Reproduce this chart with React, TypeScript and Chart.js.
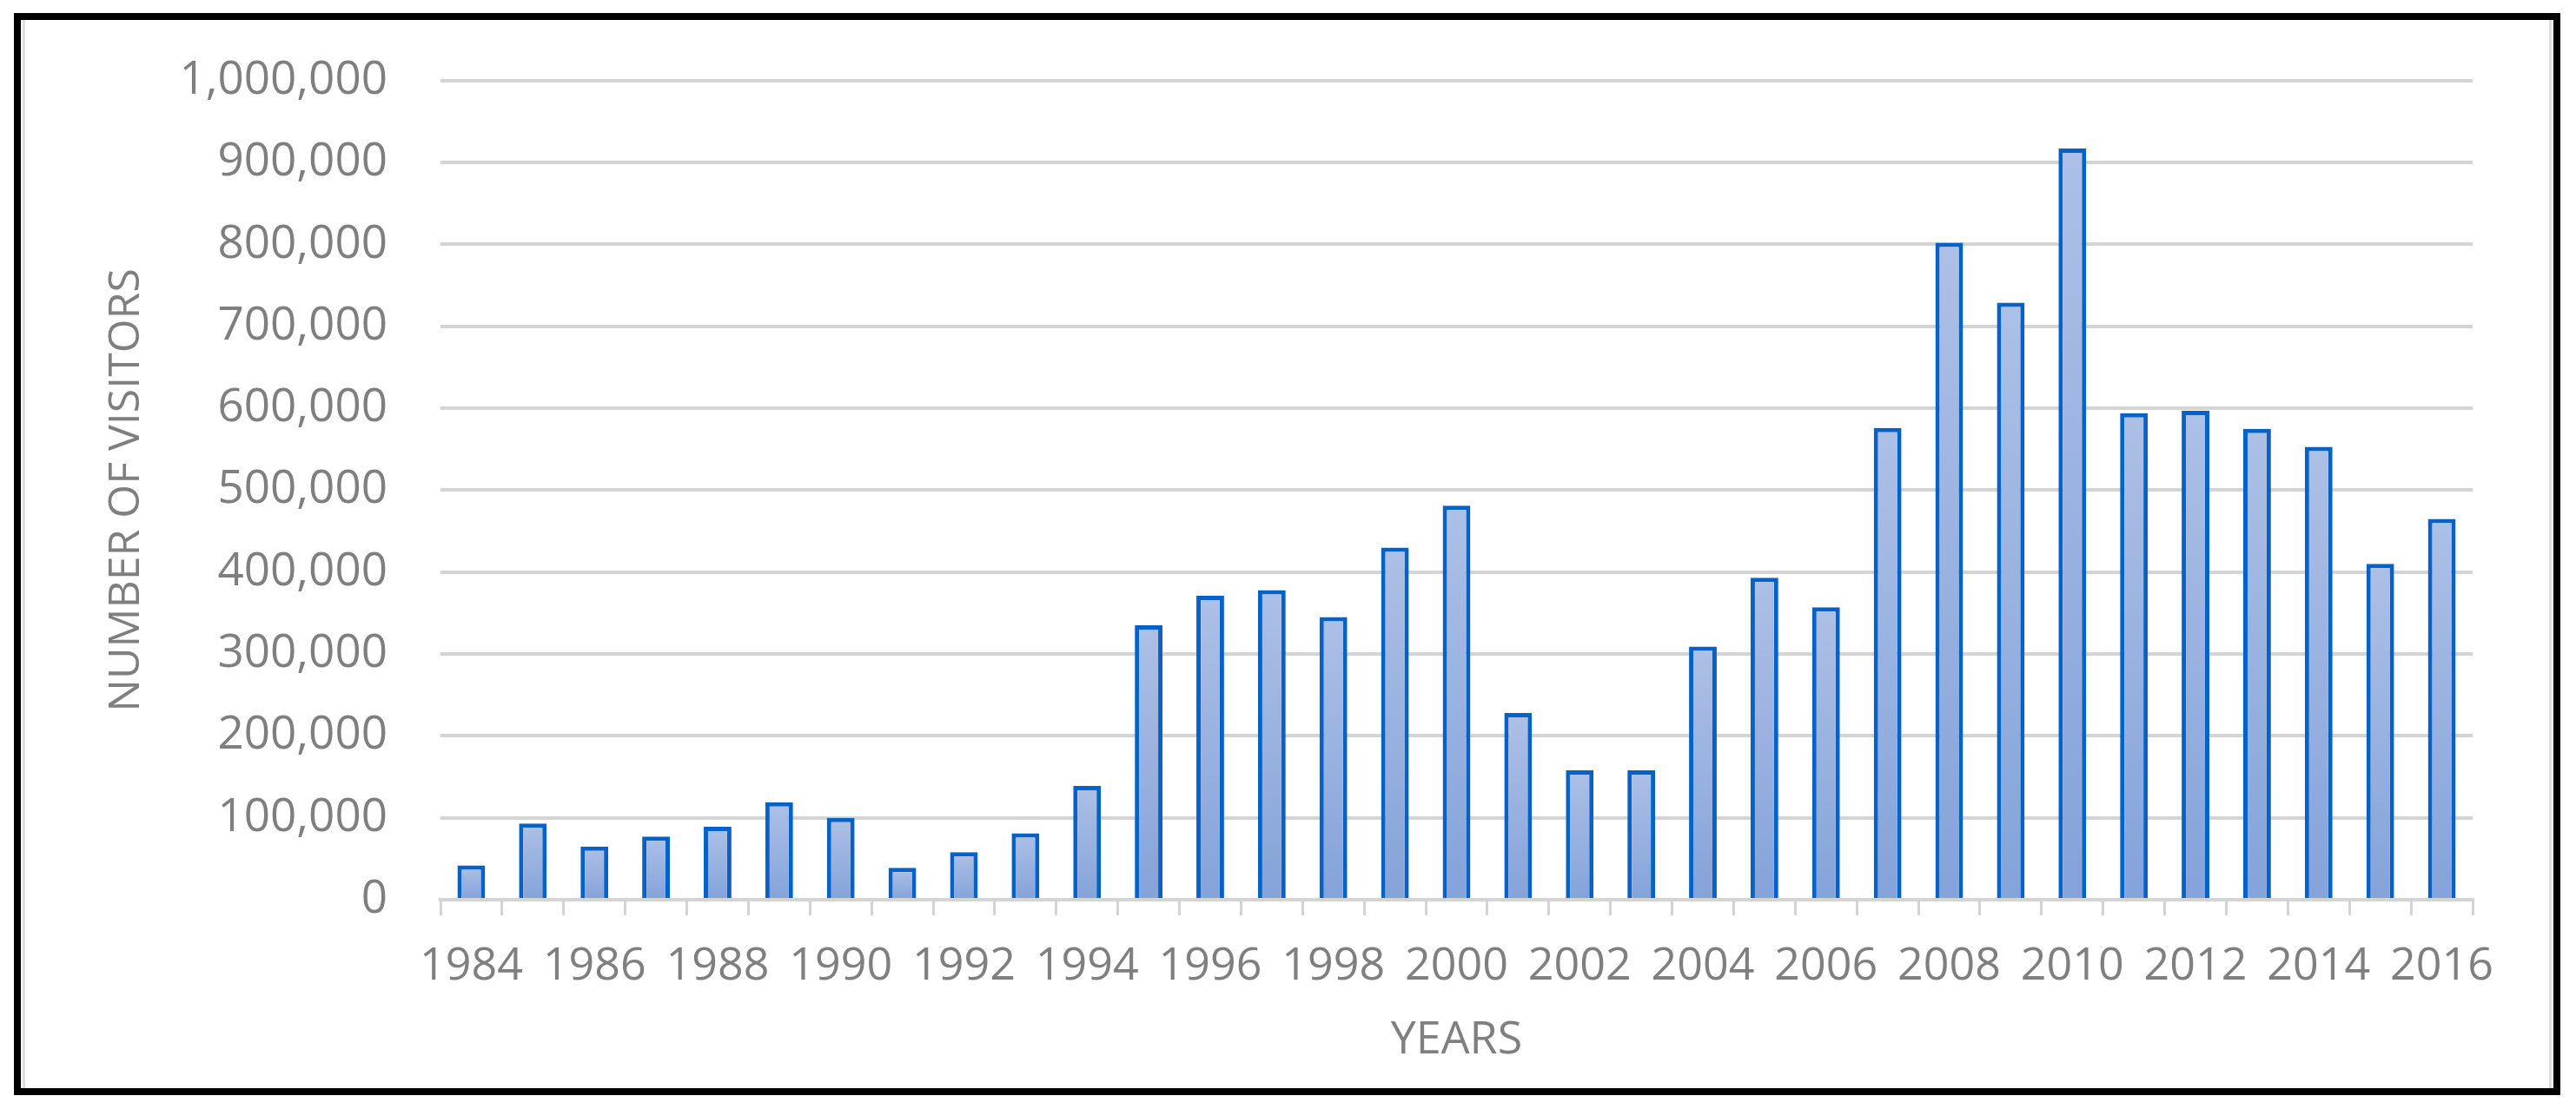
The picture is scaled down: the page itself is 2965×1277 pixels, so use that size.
import React, { useEffect, useRef } from "react";
import { Chart, registerables } from "chart.js";

Chart.register(...registerables);

const years: string[] = [
  "1984", "1985", "1986", "1987", "1988", "1989", "1990", "1991", "1992", "1993",
  "1994", "1995", "1996", "1997", "1998", "1999", "2000", "2001", "2002", "2003",
  "2004", "2005", "2006", "2007", "2008", "2009", "2010", "2011", "2012", "2013",
  "2014", "2015", "2016",
];

const visitors: number[] = [
  42000, 93000, 65000, 77000, 89000, 119000, 100000, 39000, 58000, 81000,
  139000, 335000, 371000, 378000, 345000, 430000, 481000, 228000, 158000, 158000,
  309000, 393000, 357000, 576000, 802000, 729000, 917000, 594000, 597000, 575000,
  553000, 410000, 465000,
];

const yTickValues: number[] = [0, 100000, 200000, 300000, 400000, 500000, 600000, 700000, 800000, 900000, 1000000];

const yTitle = "NUMBER OF VISITORS";
const xTitle = "YEARS";

const FONT = "'Open Sans', 'Noto Sans', sans-serif";
const TEXT = "#7f7f7f";
const GRID = "#d4d4d4";

export default function App() {
  const canvasRef = useRef<HTMLCanvasElement | null>(null);

  useEffect(() => {
    const canvas = canvasRef.current;
    if (!canvas) return;
    const chart = new Chart(canvas, {
      type: "bar",
      data: {
        labels: years,
        datasets: [
          {
            label: "Visitors",
            data: visitors,
            backgroundColor: (ctx: any) => {
              const c = ctx.chart;
              const area = c.chartArea;
              if (!area || ctx.type !== "data") return "#98b1e0";
              const ys = c.scales.y;
              const v = ctx.raw as number;
              const top = ys ? ys.getPixelForValue(v) : area.top;
              const bottom = area.bottom;
              if (!isFinite(top) || top >= bottom) return "#98b1e0";
              const g = c.ctx.createLinearGradient(0, top, 0, bottom);
              g.addColorStop(0, "#adc0e6");
              g.addColorStop(1, "#84a3da");
              return g;
            },
            borderColor: "#0762c8",
            borderWidth: 5,
            borderSkipped: "start",
            categoryPercentage: 1,
            barPercentage: 0.45,
          },
        ],
      },
      options: {
        responsive: false,
        animation: false,
        maintainAspectRatio: false,
        layout: { padding: { left: 116, right: 119, top: 91, bottom: 48 } },
        plugins: {
          legend: { display: false },
          tooltip: { enabled: false },
          title: { display: false },
        },
        scales: {
          x: {
            type: "category",
            offset: true,
            grid: {
              offset: true,
              drawOnChartArea: false,
              drawTicks: true,
              tickLength: 18,
              tickWidth: 3,
              tickColor: GRID,
              color: GRID,
              lineWidth: 3,
            },
            border: { display: true, color: GRID, width: 4 },
            ticks: {
              autoSkip: false,
              maxRotation: 0,
              minRotation: 0,
              padding: 28,
              color: TEXT,
              font: { family: FONT, size: 52 },
              callback: (_v: any, i: number) => (i % 2 === 0 ? years[i] : ""),
            },
            title: {
              display: true,
              text: xTitle,
              color: TEXT,
              font: { family: FONT, size: 52 },
              padding: { top: 0, bottom: 0 },
            },
            afterFit: (scale: any) => {
              scale.height = 193;
            },
          },
          y: {
            type: "linear",
            min: 0,
            max: 1000000,
            afterBuildTicks: (scale: any) => {
              scale.ticks = yTickValues.map((v) => ({ value: v }));
            },
            grid: {
              drawTicks: false,
              color: GRID,
              lineWidth: 4,
            },
            border: { display: false },
            ticks: {
              padding: 61,
              color: TEXT,
              font: { family: FONT, size: 53 },
              callback: (v: any) => Number(v).toLocaleString("en-US"),
            },
            title: {
              display: true,
              text: yTitle,
              color: TEXT,
              font: { family: FONT, size: 50 },
              padding: { top: 0, bottom: 0 },
            },
            afterFit: (scale: any) => {
              scale.width = 391;
            },
          },
        },
      },
    });
    return () => chart.destroy();
  }, []);

  return (
    <div
      style={{
        position: "absolute",
        left: 0,
        top: 0,
        width: 2965,
        height: 1277,
        background: "#ffffff",
        overflow: "hidden",
      }}
    >
      <canvas
        ref={canvasRef}
        width={2965}
        height={1277}
        style={{ position: "absolute", left: 0, top: 0, width: 2965, height: 1277 }}
      />
      <div
        style={{
          position: "absolute",
          left: 16,
          top: 15,
          width: 2931,
          height: 1246,
          border: "8px solid #000",
          boxSizing: "border-box",
          pointerEvents: "none",
        }}
      >
        <div
          style={{
            position: "absolute",
            left: 2,
            right: 2,
            top: 0,
            bottom: 0,
            borderLeft: "3px solid #dedede",
            borderRight: "3px solid #dedede",
            boxSizing: "border-box",
          }}
        />
      </div>
    </div>
  );
}
